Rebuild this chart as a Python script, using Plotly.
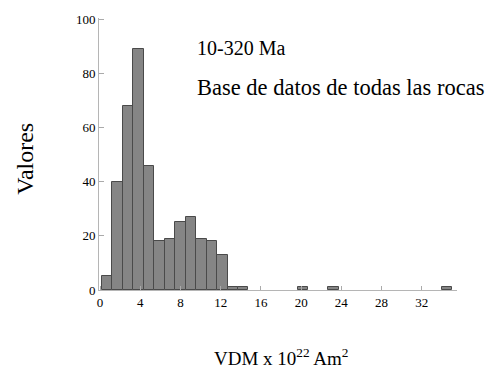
import plotly.graph_objects as go

# Histogram bins (centers in VDM x 10^22 Am^2) and counts
bin_centers = [0.72, 1.76, 2.80, 3.84, 4.88, 5.92, 6.96, 8.00, 9.04, 10.08, 11.12, 12.16, 13.20, 14.24,
               20.2, 23.2, 34.5]
counts = [5, 40, 68, 89, 46, 18, 19, 25, 27, 19, 18, 13, 1, 1,
          1, 1, 1]
x_ticks = [0, 4, 8, 12, 16, 20, 24, 28, 32]
y_ticks = [0, 20, 40, 60, 80, 100]

serif = "Times New Roman, Liberation Serif, DejaVu Serif, serif"

fig = go.Figure()
fig.add_trace(go.Bar(
    x=bin_centers, y=counts, width=1.04,
    marker=dict(color="#858585", line=dict(color="#4a4a4a", width=1)),
))

fig.update_layout(
    width=489, height=381,
    margin=dict(l=99, r=32, t=13, b=91),
    paper_bgcolor="white", plot_bgcolor="white",
    showlegend=False,
    font=dict(family=serif, color="black", size=13),
    xaxis=dict(range=[-0.1, 35.5], tickvals=x_ticks, ticks="inside", ticklen=4,
               tickcolor="#aaaaaa", showline=True, linecolor="#b5b5b5", linewidth=1,
               showgrid=False, zeroline=False, tickfont=dict(size=13, family=serif)),
    yaxis=dict(range=[0, 100.5], tickvals=y_ticks, ticks="inside", ticklen=5,
               tickcolor="#aaaaaa", showline=True, linecolor="#b5b5b5", linewidth=1,
               showgrid=False, zeroline=False, tickfont=dict(size=13, family=serif)),
    bargap=0,
)

fig.add_annotation(text="10-320 Ma", xref="paper", yref="paper", x=0.267, y=0.89,
                   xanchor="left", yanchor="middle", showarrow=False,
                   font=dict(size=20, family=serif))
fig.add_annotation(text="Base de datos de todas las rocas", xref="paper", yref="paper",
                   x=0.267, y=0.745, xanchor="left", yanchor="middle", showarrow=False,
                   font=dict(size=22.5, family=serif))
fig.add_annotation(text="Valores", xref="paper", yref="paper", x=-0.207, y=0.482,
                   xanchor="center", yanchor="middle", showarrow=False, textangle=-90,
                   font=dict(size=24, family=serif))
fig.add_annotation(text="VDM x 10<sup>22</sup> Am<sup>2</sup>", xref="paper", yref="paper",
                   x=0.511, y=-0.245, xanchor="center", yanchor="middle", showarrow=False,
                   font=dict(size=19, family=serif))

fig.write_html("out.html")
